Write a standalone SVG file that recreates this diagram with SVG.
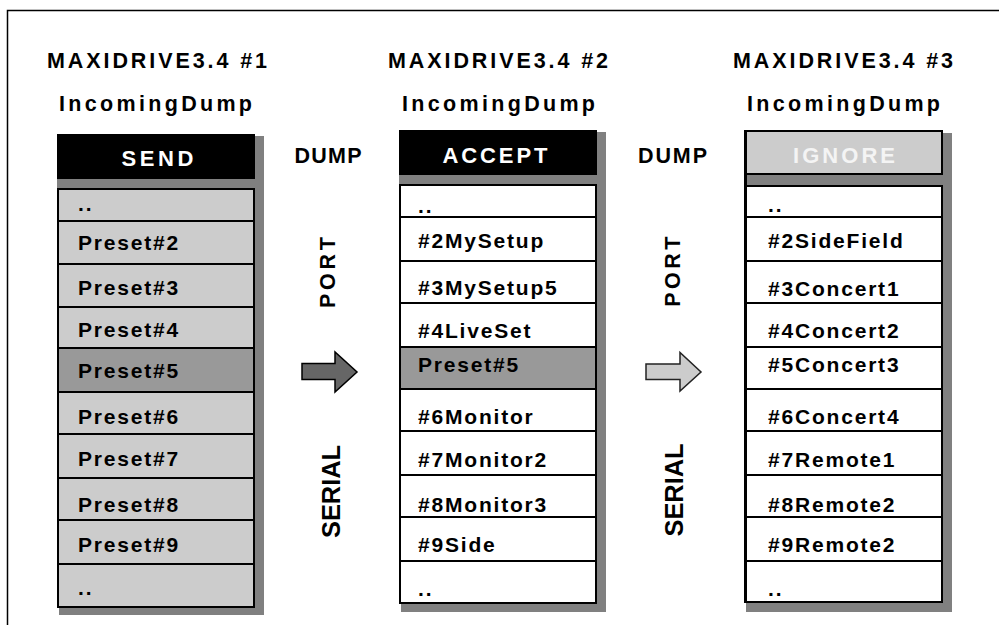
<svg xmlns="http://www.w3.org/2000/svg" width="999" height="635" viewBox="0 0 999 635">
<style>
text{font-family:"Liberation Sans",Arial,sans-serif;font-weight:bold;fill:#000}
.title{font-size:21.5px}
.item{font-size:21px;letter-spacing:1.8px}
.hdr{font-size:22px;fill:#fff}
.hdrlight{font-size:22px;fill:#f4f4f4}
.side{font-size:21.5px}
.shadow{fill:#808080}
.row{stroke:#000;stroke-width:2}
.g1{fill:#cccccc}
.g2{fill:#999999}
.w{fill:#ffffff}
.frame{fill:none;stroke:#000;stroke-width:1.5}
</style>
<rect width="999" height="635" fill="#fff"/>
<path class="frame" d="M7.5,625 V10.5 H999"/>

<g id="col1">
  <text class="title" x="157" y="68" text-anchor="middle" textLength="220" lengthAdjust="spacing">MAXIDRIVE3.4 #1</text>
  <text class="title" x="155.5" y="111" text-anchor="middle" textLength="193" lengthAdjust="spacing">IncomingDump</text>
  <rect class="shadow" x="59" y="136" width="205" height="479"/>
  <rect class="shadow" x="57" y="179" width="206" height="10"/>
  <rect x="57" y="134" width="198" height="45" fill="#000"/>
  <text class="hdr" x="157.5" y="165.5" text-anchor="middle" textLength="72" lengthAdjust="spacing">SEND</text>
  <rect class="row g1" x="58" y="189" width="196" height="32"/>
  <rect class="row g1" x="58" y="221" width="196" height="43"/>
  <rect class="row g1" x="58" y="264" width="196" height="43"/>
  <rect class="row g1" x="58" y="307" width="196" height="41"/>
  <rect class="row g2" x="58" y="348" width="196" height="44"/>
  <rect class="row g1" x="58" y="392" width="196" height="42"/>
  <rect class="row g1" x="58" y="434" width="196" height="44"/>
  <rect class="row g1" x="58" y="478" width="196" height="42"/>
  <rect class="row g1" x="58" y="520" width="196" height="44"/>
  <rect class="row g1" x="58" y="564" width="196" height="43"/>
  <text class="item" x="78" y="211">..</text>
  <text class="item" x="78" y="250">Preset#2</text>
  <text class="item" x="78" y="295">Preset#3</text>
  <text class="item" x="78" y="337">Preset#4</text>
  <text class="item" x="78" y="378">Preset#5</text>
  <text class="item" x="78" y="424">Preset#6</text>
  <text class="item" x="78" y="466">Preset#7</text>
  <text class="item" x="78" y="512">Preset#8</text>
  <text class="item" x="78" y="552">Preset#9</text>
  <text class="item" x="78" y="595">..</text>
</g>

<g id="col2">
  <text class="title" x="498" y="68" text-anchor="middle" textLength="220" lengthAdjust="spacing">MAXIDRIVE3.4 #2</text>
  <text class="title" x="498.5" y="111" text-anchor="middle" textLength="193" lengthAdjust="spacing">IncomingDump</text>
  <rect class="shadow" x="401" y="132" width="205" height="480"/>
  <rect class="shadow" x="399" y="175" width="206" height="10"/>
  <rect x="399" y="130" width="198" height="45" fill="#000"/>
  <text class="hdr" x="495" y="163" text-anchor="middle" textLength="105" lengthAdjust="spacing">ACCEPT</text>
  <rect class="row w" x="400" y="185" width="196" height="32"/>
  <rect class="row w" x="400" y="217" width="196" height="44"/>
  <rect class="row w" x="400" y="261" width="196" height="42"/>
  <rect class="row w" x="400" y="303" width="196" height="44"/>
  <rect class="row g2" x="400" y="347" width="196" height="42"/>
  <rect class="row w" x="400" y="389" width="196" height="42"/>
  <rect class="row w" x="400" y="431" width="196" height="44"/>
  <rect class="row w" x="400" y="475" width="196" height="42"/>
  <rect class="row w" x="400" y="517" width="196" height="44"/>
  <rect class="row w" x="400" y="561" width="196" height="42"/>
  <text class="item" x="418" y="213">..</text>
  <text class="item" x="418" y="248">#2MySetup</text>
  <text class="item" x="418" y="295">#3MySetup5</text>
  <text class="item" x="418" y="338">#4LiveSet</text>
  <text class="item" x="418" y="372">Preset#5</text>
  <text class="item" x="418" y="424">#6Monitor</text>
  <text class="item" x="418" y="467">#7Monitor2</text>
  <text class="item" x="418" y="512">#8Monitor3</text>
  <text class="item" x="418" y="552">#9Side</text>
  <text class="item" x="418" y="596">..</text>
</g>

<g id="col3">
  <text class="title" x="843" y="68" text-anchor="middle" textLength="220" lengthAdjust="spacing">MAXIDRIVE3.4 #3</text>
  <text class="title" x="843.5" y="111" text-anchor="middle" textLength="193" lengthAdjust="spacing">IncomingDump</text>
  <rect class="shadow" x="746" y="133" width="206" height="479"/>
  <rect class="shadow" x="744" y="174" width="207" height="12"/>
  <rect class="row g1" x="745" y="131" width="197" height="43"/>
  <text class="hdrlight" x="844" y="163" text-anchor="middle" textLength="102" lengthAdjust="spacing">IGNORE</text>
  <rect class="row w" x="745" y="186" width="197" height="31"/>
  <rect class="row w" x="745" y="217" width="197" height="44"/>
  <rect class="row w" x="745" y="261" width="197" height="42"/>
  <rect class="row w" x="745" y="303" width="197" height="44"/>
  <rect class="row w" x="745" y="347" width="197" height="42"/>
  <rect class="row w" x="745" y="389" width="197" height="42"/>
  <rect class="row w" x="745" y="431" width="197" height="44"/>
  <rect class="row w" x="745" y="475" width="197" height="42"/>
  <rect class="row w" x="745" y="517" width="197" height="44"/>
  <rect class="row w" x="745" y="561" width="197" height="41"/>
  <line x1="745.5" y1="130" x2="745.5" y2="603" stroke="#000" stroke-width="3"/>
  <text class="item" x="768" y="212">..</text>
  <text class="item" x="768" y="248">#2SideField</text>
  <text class="item" x="768" y="295.5">#3Concert1</text>
  <text class="item" x="768" y="338">#4Concert2</text>
  <text class="item" x="768" y="372">#5Concert3</text>
  <text class="item" x="768" y="424">#6Concert4</text>
  <text class="item" x="768" y="466.5">#7Remote1</text>
  <text class="item" x="768" y="511.5">#8Remote2</text>
  <text class="item" x="768" y="551.5">#9Remote2</text>
  <text class="item" x="768" y="595.5">..</text>
</g>

<g id="link1">
  <text class="side" x="328" y="163" text-anchor="middle" textLength="67" lengthAdjust="spacing">DUMP</text>
  <text class="side" transform="translate(335,272.5) rotate(-90)" text-anchor="middle" textLength="71" lengthAdjust="spacing">PORT</text>
  <text class="side" style="font-size:25px" transform="translate(340,491.5) rotate(-90)" text-anchor="middle" textLength="93" lengthAdjust="spacingAndGlyphs">SERIAL</text>
</g>
<g id="link2">
  <text class="side" x="672.5" y="163" text-anchor="middle" textLength="69" lengthAdjust="spacing">DUMP</text>
  <text class="side" transform="translate(680,271.7) rotate(-90)" text-anchor="middle" textLength="70" lengthAdjust="spacing">PORT</text>
  <text class="side" style="font-size:25px" transform="translate(683.3,490) rotate(-90)" text-anchor="middle" textLength="93" lengthAdjust="spacingAndGlyphs">SERIAL</text>
</g>

<g id="connectors">
  <polygon points="302,363.5 335,363.5 335,352 357,372 335,392 335,379.5 302,379.5" fill="#666666" stroke="#000" stroke-width="1.5" stroke-linejoin="miter"/>
  <polygon points="646,364 680,364 680,352.5 701,372 680,391 680,379.5 646,379.5" fill="#cccccc" stroke="#222" stroke-width="1.5"/>
</g>
</svg>
